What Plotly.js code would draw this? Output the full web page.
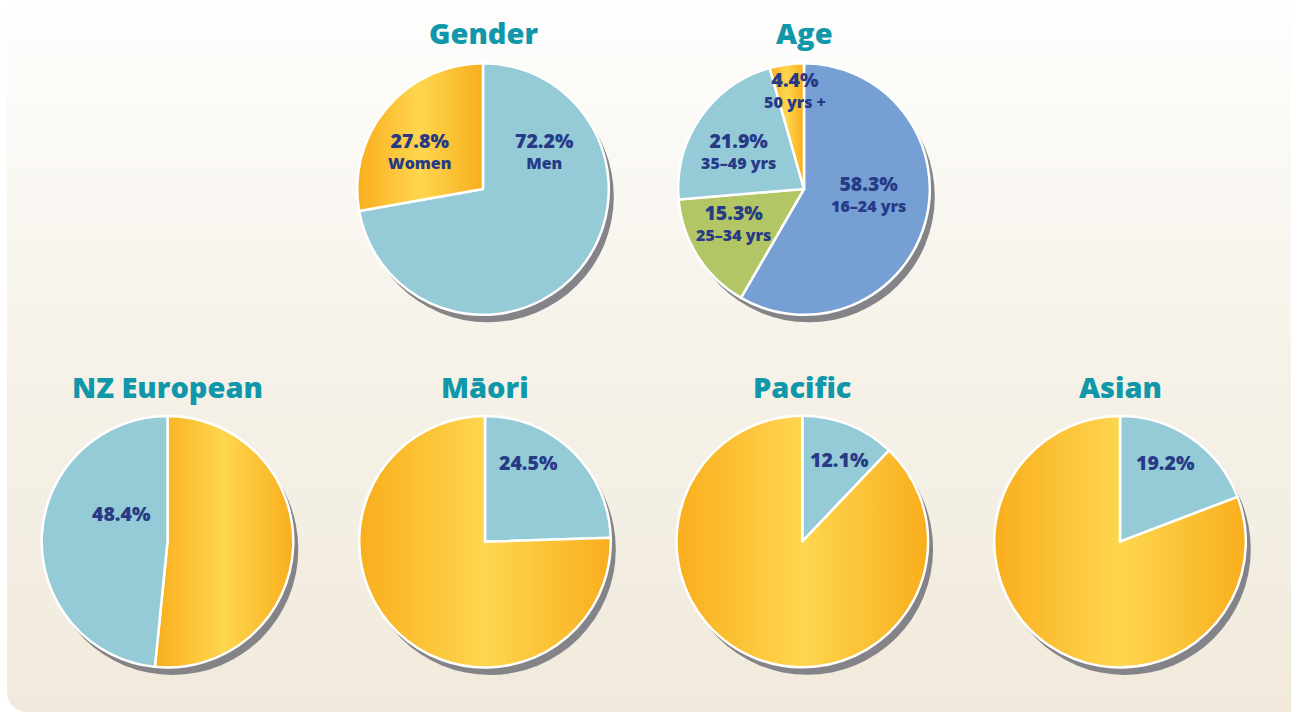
<!DOCTYPE html>
<html><head><meta charset="utf-8">
<script src="https://cdn.plot.ly/plotly-3.0.1.min.js"></script>
<style>
html,body{margin:0;padding:0;background:#ffffff;width:1291px;height:713px;overflow:hidden}
#bg{position:absolute;left:7px;top:0;width:1290px;height:712px;border-radius:3px 0 0 20px;
background:linear-gradient(to bottom,#fefefd 0%,#fbf9f5 20%,#f6f2e9 50%,#f1eadc 100%)}
#chart{position:absolute;left:0;top:0;width:1291px;height:713px}
</style></head><body><div id="bg"></div><div id="chart"></div>
<script>
// ---------- data ----------
const titles = ["Gender", "Age", "NZ European", "Māori", "Pacific", "Asian"];

const genderLabels = ["Men", "Women"];
const genderValues = [72.2, 27.8];

const ageLabels = ["16–24 yrs", "25–34 yrs", "35–49 yrs", "50 yrs +"];
const ageValues = [58.3, 15.3, 21.9, 4.4];

const ethnicGroups = ["NZ European", "Māori", "Pacific", "Asian"];
const ethnicShare = [48.4, 24.5, 12.1, 19.2];
const otherShare = [51.6, 75.5, 87.9, 80.8];

// ---------- styles / layout ----------
const W = 1291, H = 713;
const LBLUE = "#95cad7", MBLUE = "#769fd3", GREEN = "#b3c665", ORANGE = "#fcc02f";
const NAVY = "#263a86", TEAL = "#1197aa", SHADOW = "#848488";
const R = 125.8;
const centers = [[483, 189], [804, 189], [167.5, 541.7], [485, 541.7], [802.3, 541.5], [1120, 541.7]];
const titleY = [32.5, 32.5, 386.5, 386.5, 386.5, 386.5];

// label offsets from pie centre: [dx, dy] of the two-line block centre
const pies = [
  {labels: genderLabels, values: genderValues, colors: [LBLUE, ORANGE],
   text: [[61, -38.5], [-64, -38.5]]},
  {labels: ageLabels, values: ageValues, colors: [MBLUE, GREEN, LBLUE, ORANGE],
   text: [[64, 4], [-71, 34], [-66, -38.5], [-9, -100]]}
];
const ethOffsets = [[-46, -28], [43, -79], [37, -82], [45, -79]];
ethnicGroups.forEach((g, i) => {
  // NZ European: the group slice follows the rest (clockwise from 12 o'clock)
  const groupFirst = i !== 0;
  pies.push({
    labels: groupFirst ? [g, "Other"] : ["Other", g],
    values: groupFirst ? [ethnicShare[i], otherShare[i]] : [otherShare[i], ethnicShare[i]],
    colors: groupFirst ? [LBLUE, ORANGE] : [ORANGE, LBLUE],
    pct: ethnicShare[i], pctOnly: ethOffsets[i]});
});

const px = x => x / W, py = y => 1 - y / H;
const FONT = "'Open Sans', 'DejaVu Sans', sans-serif";

const traces = [], shapes = [], annotations = [];
pies.forEach((p, i) => {
  const [cx, cy] = centers[i];
  traces.push({
    type: "pie", labels: p.labels, values: p.values, sort: false, direction: "clockwise", rotation: 0,
    marker: {colors: p.colors, line: {color: "#ffffff", width: 2.5}},
    textinfo: "none", hoverinfo: "none", showlegend: false,
    domain: {x: [px(cx - R), px(cx + R)], y: [py(cy + R), py(cy - R)]}
  });
  shapes.push({type: "circle", xref: "paper", yref: "paper", layer: "below",
    x0: px(cx - R + 5), x1: px(cx + R + 5), y0: py(cy + R + 7.5), y1: py(cy - R + 7.5),
    fillcolor: SHADOW, line: {width: 0}});
  annotations.push({xref: "paper", yref: "paper", x: px(cx), y: py(titleY[i]), xanchor: "center", yanchor: "middle",
    text: titles[i], showarrow: false, font: {family: FONT, size: 29, color: TEAL, weight: 800}});
  if (p.text) {
    p.labels.forEach((lab, j) => {
      const o = p.text[j];
      annotations.push({xref: "paper", yref: "paper", x: px(cx + o[0]), y: py(cy + o[1]), xanchor: "center", yanchor: "middle",
        text: '<span style="font-size:19.5px">' + p.values[j].toFixed(1) + "%</span><br>" + lab,
        showarrow: false, font: {family: FONT, size: 16, color: NAVY, weight: 800}});
    });
  } else {
    const o = p.pctOnly;
    annotations.push({xref: "paper", yref: "paper", x: px(cx + o[0]), y: py(cy + o[1]), xanchor: "center", yanchor: "middle",
      text: p.pct.toFixed(1) + "%", showarrow: false, font: {family: FONT, size: 19.5, color: NAVY, weight: 800}});
  }
});

const layout = {
  width: W, height: H, margin: {l: 0, r: 0, t: 0, b: 0},
  paper_bgcolor: "rgba(0,0,0,0)", plot_bgcolor: "rgba(0,0,0,0)",
  shapes: shapes, annotations: annotations, showlegend: false
};

Plotly.newPlot("chart", traces, layout, {staticPlot: true}).then(gd => {
  const svg = gd.querySelector("svg.main-svg");
  const ns = "http://www.w3.org/2000/svg";
  const defs = document.createElementNS(ns, "defs");
  const lg = document.createElementNS(ns, "linearGradient");
  lg.setAttribute("id", "orangeGrad");
  lg.setAttribute("x1", "0"); lg.setAttribute("y1", "0"); lg.setAttribute("x2", "1"); lg.setAttribute("y2", "0");
  [["0", "#f9ae1d"], ["0.5", "#fed64f"], ["1", "#f9ae1d"]].forEach(([o, c]) => {
    const s = document.createElementNS(ns, "stop");
    s.setAttribute("offset", o); s.setAttribute("stop-color", c); lg.appendChild(s);
  });
  defs.appendChild(lg); svg.insertBefore(defs, svg.firstChild);
  gd.querySelectorAll(".slice path.surface").forEach(el => {
    const f = getComputedStyle(el).fill;
    if (f === "rgb(252, 192, 47)") el.style.fill = "url(#orangeGrad)";
  });
});
</script></body></html>
